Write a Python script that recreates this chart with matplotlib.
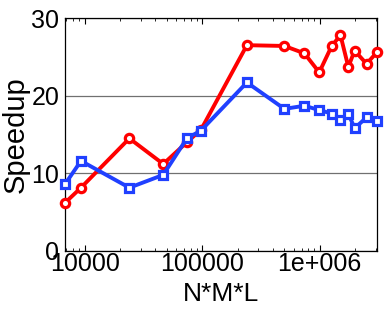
import matplotlib
matplotlib.use("Agg")
import matplotlib.pyplot as plt
from matplotlib.ticker import LogLocator, NullFormatter

plt.rcParams['font.family'] = ['Liberation Sans', 'DejaVu Sans']

x_vals = [6800, 9300, 24000, 46600, 74000, 97500, 240000, 500000, 740000,
          990000, 1260000, 1500000, 1750000, 1980000, 2500000, 3070000]
red_speedup = [6.2, 8.15, 14.5, 11.2, 14.0, 15.6, 26.5, 26.4, 25.45, 23.0,
               26.35, 27.8, 23.7, 25.8, 24.1, 25.6]
blue_speedup = [8.6, 11.6, 8.15, 9.8, 14.5, 15.5, 21.7, 18.3, 18.7, 18.15,
                17.7, 16.9, 17.7, 15.8, 17.2, 16.7]
x_ticks = [10000, 100000, 1000000]
x_ticklabels = ["10000", "100000", "1e+006"]
y_ticks = [0, 10, 20, 30]

fig = plt.figure(figsize=(3.88, 3.09), dpi=100)
ax = fig.add_axes([65/388, 1-251/309, (377-65)/388, (251-18)/309])

ax.plot(x_vals, red_speedup, color='#ff0000', lw=2.8, marker='o', ms=6.0,
        mfc='white', mec='#ff0000', mew=2.3, zorder=3, clip_on=False)
ax.plot(x_vals, blue_speedup, color='#2040ff', lw=2.8, marker='s', ms=5.6,
        mfc='white', mec='#2040ff', mew=2.3, zorder=4, clip_on=False)

ax.set_xscale('log')
ax.set_xlim(x_vals[0], x_vals[-1])
ax.set_ylim(0, 30)
ax.set_xticks(x_ticks)
ax.set_xticklabels(x_ticklabels)
ax.xaxis.set_minor_locator(LogLocator(base=10, subs=range(2, 10), numticks=20))
ax.xaxis.set_minor_formatter(NullFormatter())
ax.set_yticks(y_ticks)
ax.yaxis.grid(True, color='#707070', lw=0.9)
ax.set_axisbelow(True)

ax.tick_params(axis='both', which='both', direction='in', top=True, right=False,
               labelsize=18, pad=1)
ax.tick_params(axis='x', which='major', length=4)
ax.tick_params(axis='x', which='minor', length=2)
ax.tick_params(axis='y', length=0, pad=4)
for s in ax.spines.values():
    s.set_linewidth(0.9)

ax.set_xlabel("N*M*L", fontsize=19, labelpad=4)
ax.set_ylabel("Speedup", fontsize=21, labelpad=1)

fig.savefig("out.png", dpi=100)
